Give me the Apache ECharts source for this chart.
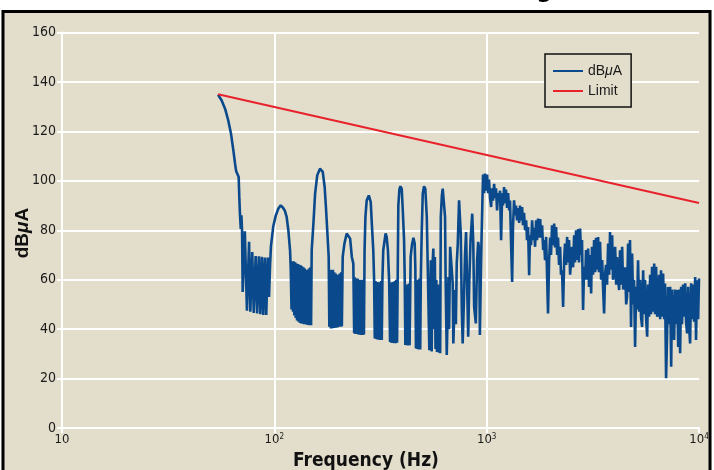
<!DOCTYPE html>
<html>
<head>
<meta charset="utf-8">
<script src="https://cdn.jsdelivr.net/npm/echarts@6/dist/echarts.min.js"></script>
<style>
html,body{margin:0;padding:0;background:#fff;}
#chart{width:714px;height:470px;}
</style>
</head>
<body>
<div id="chart"></div>
<script>
// log10 of frequency (Hz) for each sample of the measured curve
const logHz = [
1.735,1.752,1.768,1.783,1.796,1.807,1.815,1.820,1.828,1.832,1.835,1.838,1.842,1.845,1.848,1.851,
1.861,1.871,1.881,1.887,1.896,1.903,1.912,1.919,1.927,1.934,1.941,1.948,1.955,1.962,1.969,1.975,1.980,1.984,
1.995,2.007,2.019,2.030,2.040,2.049,2.058,2.066,2.074,2.077,
2.081,2.084,2.088,2.091,2.094,2.098,2.101,2.104,2.107,2.111,2.114,2.117,2.121,2.124,2.127,2.130,2.134,2.137,2.140,2.143,2.147,2.150,2.153,2.157,2.160,2.163,2.166,2.170,2.173,2.176,
2.184,2.192,2.202,2.215,2.228,2.237,2.243,2.250,2.256,
2.259,2.262,2.266,2.269,2.272,2.276,2.279,2.282,2.285,2.289,2.292,2.295,2.299,2.302,2.305,2.308,2.312,2.315,2.318,
2.322,2.330,2.341,2.349,2.357,2.365,2.372,
2.376,2.379,2.382,2.386,2.389,2.392,2.396,2.399,2.402,2.406,2.409,2.412,2.416,2.419,2.422,
2.425,2.429,2.435,2.445,2.454,2.460,2.466,2.470,
2.473,2.476,2.480,2.483,2.486,2.490,2.493,2.496,2.499,2.503,2.506,2.509,
2.513,2.524,2.529,2.535,2.541,
2.545,2.548,2.551,2.555,2.558,2.561,2.565,2.568,2.571,2.574,2.578,2.581,
2.584,2.589,2.594,2.600,2.605,2.611,2.614,
2.617,2.620,2.624,2.627,2.630,2.634,2.637,
2.642,2.648,2.655,2.661,2.664,
2.667,2.670,2.674,2.677,2.680,2.684,2.687,2.690,
2.694,2.699,2.705,2.711,2.718,2.721,2.724,
2.730,2.737,2.741,2.745,2.749,2.752,2.756,2.759,2.763,2.766,2.770,2.774,2.778,2.781,
2.784,2.789,2.793,2.798,2.804,2.807,2.812,2.820,2.823,2.828,2.836,2.840,2.843,2.851,2.855,2.859,2.864,2.870,2.875,2.878,
2.883,2.887,2.893,2.898,2.903,2.909,2.913,2.918,2.924,2.932,2.937,2.941,2.949,2.955,2.960,2.965,2.968,2.972,2.976,
2.983,2.988,2.992,2.997,3.002,3.007,3.011,3.016,3.021,3.025,
3.030,3.035,3.040,3.044,3.049,3.054,3.058,3.063,3.068,3.073,
3.077,3.082,3.087,3.091,3.096,3.101,3.106,3.110,3.115,3.120,
3.124,3.129,3.134,3.138,3.143,3.148,3.153,3.157,3.162,3.167,
3.171,3.176,3.181,3.186,3.190,3.195,3.200,3.204,3.209,3.214,
3.219,3.223,3.228,3.233,3.237,3.242,3.247,3.252,3.256,3.261,
3.266,3.270,3.275,3.280,3.285,3.289,3.294,3.299,3.303,3.308,
3.313,3.318,3.322,3.327,3.332,3.336,3.341,3.346,3.350,3.355,
3.360,3.365,3.369,3.374,3.379,3.383,3.388,3.393,3.398,3.402,
3.407,3.412,3.416,3.421,3.426,3.431,3.435,3.440,3.445,3.449,
3.454,3.459,3.464,3.468,3.473,3.478,3.482,3.487,3.492,3.496,
3.501,3.506,3.511,3.515,3.520,3.525,3.529,3.534,3.539,3.544,
3.548,3.553,3.558,3.562,3.567,3.572,3.577,3.581,3.586,3.591,
3.595,3.600,3.605,3.610,3.614,3.619,3.624,3.628,3.633,3.638,
3.643,3.647,3.652,3.657,3.661,3.666,3.671,3.675,3.680,3.685,
3.690,3.694,3.699,3.704,3.708,3.713,3.718,3.723,3.727,3.732,
3.737,3.741,3.746,3.751,3.756,3.760,3.765,3.770,3.774,3.779,
3.784,3.789,3.793,3.798,3.803,3.807,3.812,3.817,3.821,3.826,
3.831,3.836,3.840,3.845,3.850,3.854,3.859,3.864,3.869,3.873,
3.878,3.883,3.887,3.892,3.897,3.902,3.906,3.911,3.916,3.920,
3.925,3.930,3.935,3.939,3.944,3.949,3.953,3.958,3.963,3.967,
3.972,3.977,3.982,3.986,3.991,3.996,4.000
];
// measured level, dBuA
const dBuA = [
134.8,132.5,129.2,124.4,119,112.3,107,104,104,101.5,93.5,86.7,80.5,86,80,55,
79.6,47.4,75.3,47,71.2,46.5,69.6,46.3,69.5,46,69.3,45.7,69,45.7,69,53,66,73.5,
81.6,86,88.8,90.1,89.2,88,85.4,80,71.9,65.2,
48,67.5,47,67.5,45.5,67,44.5,66.5,43.5,66.3,43,66,42.5,65.8,42.3,65.4,42.2,65,42,64.5,42,64,41.8,64,41.7,64.5,41.6,65,41.6,71.9,
82.7,94.8,102.2,104.9,103.6,97.5,89.4,78.7,69.2,
41,63.5,40.3,64,40.3,64,40.5,63,40.5,62.5,40.6,62,40.8,62,41,62.5,41,63,41.2,
69.2,74.6,78.7,79.3,76.6,69.2,66.5,
38.3,61,38,60.5,38,60.5,37.8,60,37.7,60,37.6,59.8,37.6,60,37.8,
71.9,85.4,92.1,94.1,91.4,81.3,71.9,59.8,
36.2,59.5,36,59.1,35.8,59,35.7,59,35.6,59.5,35.6,60,
71.9,78.7,77.3,71.9,58.5,
34.8,58.8,34.5,59,34.4,59.1,34.3,59.5,34.3,60,34.5,61,
90,96.5,97.8,96.8,88,76,61.1,
33.6,57.5,33.5,58,33.4,58.5,33.5,
69.2,74,77,74.6,65.2,
32.2,59.5,32,60,31.8,60.5,31.8,61,
78.7,94.8,97.8,96.8,85.4,71.9,58.5,
31.5,67.9,31,66,72.6,40,69.2,32,60,30.8,58,30.5,57,30.2,
85.4,94,96.8,96.5,85.4,58.5,29.5,61.1,40,73.3,73.9,58.5,34.2,55.8,42,66.5,74.6,92.1,92.8,78.7,
47.7,34.2,51.7,70,79.3,78.7,36.9,58.5,76,86.7,74.6,49,42.3,67.9,75.3,71.9,37.6,58.5,77.3,
102.5,95,102.9,96,102.5,95,100.5,93,89.4,97,
92,98.8,93,97,88,95,92,96,76,95,
90,97.5,91,96.5,89,95,88,92,74.6,59.1,
81.3,92.1,86,90,84,89,83,90,84,89.4,
82,87,80,84,76,81.3,61.8,78,74,84,
76,81,73.3,84,76,84.7,77,84.5,77,82,
72,76,67.9,77.3,60,46.3,68,77,70,82,
74,82.7,73,81.3,70,77,66,73.3,62,63.8,
49,68,74.6,66,77.3,67,76,62,61.8,73.3,
65,78,67,80,68,80.5,67,80.7,70,76,
47.7,65.2,60,72,60,72.6,57.1,70,54.4,73.3,
62,76,63,77,64,77.3,63,75.3,60,67.9,
57.1,46.3,62.5,66,58,74.6,62,79.3,64,78,
60,62.5,73.3,58,69.2,60,55.8,71.9,58,73.3,
56,59.8,65,50,53,74.6,55,76,40.9,70.6,
50,60,32.8,57.1,48,67.9,47,60,45,40.9,
63.8,46,60,44,36.9,58,45,62,46,65.2,
47,66.5,46,65.2,45,46.3,62,44,63.8,45,
62.5,44,58.5,20.1,38.3,57,42,57.1,24.8,56,
44,35.6,56,42,55.8,32.8,56,30.2,57.1,42,
58,45,58.5,43,38.3,57.1,42,34.2,58.5,44,
58,43,61.1,35.6,59.8,44,60.5
];
// limit line
const limitHz = [54.3, 10000];
const limitDb = [135, 91];
// axis ticks
const yMin = 0, yMax = 160, yStep = 20;
const xTickExp = {10: '10', 100: '10{s|2}', 1000: '10{s|3}', 10000: '10{s|4}'};

const curve = logHz.map((l, i) => [Math.pow(10, l), dBuA[i]]);
const limit = limitHz.map((f, i) => [f, limitDb[i]]);

const NARROW = '"Liberation Sans Narrow", "DejaVu Sans Condensed", "Arial Narrow", sans-serif';
const SANS = '"Liberation Sans", Arial, sans-serif';
const BG = '#E3DDCC';
const chart = echarts.init(document.getElementById('chart'), null, {renderer: 'canvas'});
chart.setOption({
  animation: false,
  backgroundColor: BG,
  textStyle: {fontFamily: NARROW},
  grid: {left: 62, right: 15, top: 32.5, bottom: 42, containLabel: false},
  xAxis: {
    type: 'log', logBase: 10, min: 10, max: 10000,
    axisLine: {show: true, lineStyle: {color: '#fff', width: 2}},
    axisTick: {show: true, length: 5, lineStyle: {color: '#fff', width: 2}},
    minorTick: {show: false},
    splitLine: {show: true, lineStyle: {color: ['#fff', '#fff', '#fff', 'rgba(0,0,0,0)'], width: 2}},
    axisLabel: {
      margin: 5, color: '#1a1a1a', fontSize: 13, fontFamily: NARROW,
      formatter: v => xTickExp[Math.pow(10, Math.round(Math.log10(v)))],
      rich: {s: {fontSize: 8, fontFamily: NARROW, color: '#1a1a1a', verticalAlign: 'top', padding: [0, 0, 6, 0]}}
    }
  },
  yAxis: {
    type: 'value', min: yMin, max: yMax, interval: yStep,
    axisLine: {show: true, lineStyle: {color: '#fff', width: 2}},
    axisTick: {show: true, length: 5, lineStyle: {color: '#fff', width: 2}},
    splitLine: {show: true, lineStyle: {color: '#fff', width: 2}},
    axisLabel: {margin: 6, color: '#1a1a1a', fontSize: 14, fontFamily: NARROW}
  },
  legend: {
    left: 545, top: 54, orient: 'vertical',
    icon: 'rect', itemWidth: 30, itemHeight: 2, itemGap: 6,
    padding: [10, 9, 9, 8],
    borderColor: '#111', borderWidth: 1.5, backgroundColor: BG,
    textStyle: {
      fontSize: 14, color: '#1a1a1a', fontFamily: SANS, padding: [0, 0, 0, 0],
      rich: {
        n: {fontSize: 14, color: '#1a1a1a', fontFamily: SANS},
        i: {fontSize: 14, color: '#1a1a1a', fontStyle: 'italic', fontFamily: SANS}
      }
    },
    formatter: name => name === 'dBμA' ? '{n|dB}{i|μ}{n|A}' : '{n|' + name + '}',
    data: ['dBμA', 'Limit']
  },
  series: [
    {name: 'dBμA', type: 'line', data: curve, symbol: 'none', color: '#0a4a8c',
     lineStyle: {color: '#0a4a8c', width: 2.6}, z: 3},
    {name: 'Limit', type: 'line', data: limit, symbol: 'none', color: '#e8222b',
     lineStyle: {color: '#e8222b', width: 2}, z: 4}
  ],
  graphic: [
    {type: 'rect', shape: {x: 0, y: 0, width: 714, height: 10}, style: {fill: '#fff'}, z: 1},
    {type: 'rect', shape: {x: 0, y: 0, width: 1.5, height: 470}, style: {fill: '#fff'}, z: 1},
    {type: 'rect', shape: {x: 711.5, y: 0, width: 3, height: 470}, style: {fill: '#fff'}, z: 1},
    {type: 'text', x: 553, y: 2, z: 2,
     style: {text: 'Conducted Emissions Testing', textAlign: 'right', textVerticalAlign: 'bottom',
             font: 'bold 26px ' + NARROW, fill: '#000'}},
    {type: 'rect', shape: {x: 3, y: 11.5, width: 707, height: 480},
     style: {fill: 'none', stroke: '#000', lineWidth: 3}, z: 2},
    {type: 'text', x: 366, y: 461, z: 2,
     style: {text: 'Frequency (Hz)', textAlign: 'center', textVerticalAlign: 'middle',
             font: 'bold 19px ' + NARROW, fill: '#111'}},
    {type: 'text', x: 23, y: 233, rotation: Math.PI / 2, z: 2,
     style: {text: '{b|dB}{bi|μ}{b|A}', textAlign: 'center', textVerticalAlign: 'middle',
             rich: {
               b: {font: 'bold 19px ' + SANS, fill: '#111'},
               bi: {font: 'italic bold 19px ' + SANS, fill: '#111'}
             }}}
  ]
});
</script>
</body>
</html>
